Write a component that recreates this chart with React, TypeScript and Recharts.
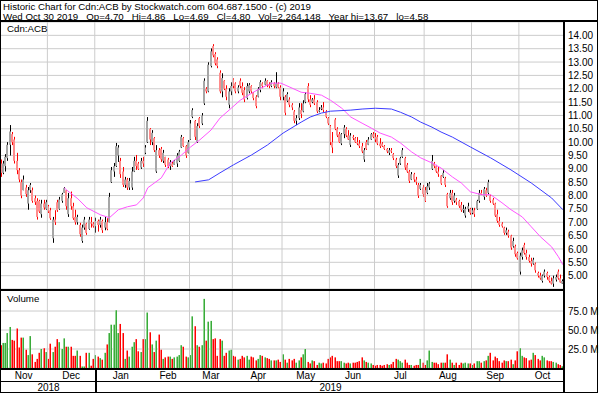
import React from 'react';
import { ComposedChart, Bar, Line, XAxis, YAxis, CartesianGrid, ReferenceLine } from 'recharts';

const FONT = '"Liberation Sans", Arial, sans-serif';

// one trading-day slot per entry, Nov 2018 .. Oct 30 2019
const months = ['Nov', 'Dec', 'Jan', 'Feb', 'Mar', 'Apr', 'May', 'Jun', 'Jul', 'Aug', 'Sep', 'Oct'];
const monthSlots = [21, 21, 22, 20, 19, 22, 21, 20, 22, 21, 21, 20];
const yearLabels = ['2018', '2019'];
const yearFirstMonth = [0, 2];

const quoteItems = ['Wed Oct 30 2019', 'Op=4.70', 'Hi=4.86', 'Lo=4.69', 'Cl=4.80', 'Vol=2,264,148', 'Year hi=13.67', 'lo=4.58'];

const opens = [
  9.2, 8.85, 9.1, 9.4, 9.9, 10.3, 10.1, 9.3, 8.95, 8.5,
  8.2, 8.3, 7.7, 8.2, 8.2, 7.9, 7.8, 7.8, 7.3, 7.7,
  7.5, 7.6, 7.45, 6.4, 7.1, 7.75, 7.5, 7.8, 8.1, 8.2,
  7.3, 7.9, 7.6, 7.2, 7.0, 6.9, 6.3, 6.8, 6.95, 6.75,
  7.0, 6.95, 6.85, 7.05, 6.9, 7.05, 6.8, 7.0, 7.0, 8.5,
  8.9, 9.1, 9.5, 9.3, 8.9, 8.4, 8.6, 8.3, 8.3, 8.9,
  9.3, 9.2, 9.05, 9.3, 9.6, 10.0, 10.5, 10.0, 10.15, 8.9,
  9.7, 9.75, 9.3, 9.45, 9.35, 9.1, 9.2, 9.15, 9.2, 9.3,
  9.8, 10.15, 9.85, 9.6, 10.1, 10.95, 10.8, 10.0, 10.9, 10.7,
  11.45, 12.0, 11.9, 12.85, 13.6, 13.3, 13.1, 12.6, 11.9, 12.3,
  12.0, 11.4, 11.9, 12.35, 12.2, 11.9, 12.3, 12.1, 11.95, 11.65,
  11.9, 12.1, 11.85, 11.7, 11.7, 11.95, 12.2, 12.15, 12.3, 12.15,
  12.1, 12.2, 12.05, 12.2, 12.05, 11.7, 11.7, 11.55, 11.6, 11.4,
  11.15, 10.8, 10.9, 11.2, 11.15, 11.5, 12.1, 11.6, 11.5, 11.6,
  11.5, 11.15, 11.25, 11.3, 11.15, 10.9, 10.6, 10.0, 10.85, 10.5,
  10.3, 9.95, 10.3, 10.5, 10.25, 9.9, 10.2, 10.15, 10.0, 9.95,
  9.85, 9.35, 10.0, 9.9, 10.1, 10.3, 10.2, 10.2, 9.95, 9.95,
  9.85, 9.75, 9.6, 9.7, 9.55, 9.35, 8.75, 9.2, 9.45, 9.4,
  9.15, 8.9, 8.6, 8.8, 8.6, 8.4, 8.25, 8.3, 8.2, 8.1,
  8.3, 9.0, 9.2, 9.1, 8.9, 8.75, 8.7, 8.65, 8.05, 7.9,
  8.1, 7.8, 7.85, 7.8, 7.65, 7.45, 7.25, 7.5, 7.5, 7.35,
  7.45, 7.5, 7.8, 8.1, 7.95, 8.2, 8.1, 8.0, 7.85, 7.7,
  7.3, 7.05, 6.95, 6.8, 6.6, 6.65, 6.5, 6.1, 6.1, 5.85,
  5.15, 5.7, 6.15, 5.85, 5.7, 5.55, 5.45, 5.45, 5.1, 5.0,
  4.8, 5.0, 5.1, 4.95, 4.8, 4.7, 4.85, 5.15, 4.9, 4.7,
];

const highs = [
  9.35, 9.3, 9.55, 10.0, 10.64, 10.38, 10.2, 9.6, 9.03, 8.6,
  8.75, 8.4, 8.32, 8.47, 8.3, 8.0, 7.9, 7.84, 7.84, 7.84,
  7.84, 7.65, 7.54, 7.2, 7.45, 7.84, 7.95, 8.1, 8.32, 8.21,
  8.1, 8.15, 7.73, 7.47, 7.28, 6.98, 6.91, 7.2, 6.98, 7.2,
  7.2, 7.0, 7.17, 7.1, 7.2, 7.1, 7.2, 7.15, 8.1, 9.07,
  9.22, 9.97, 9.89, 9.41, 9.07, 8.7, 8.66, 8.66, 9.07, 9.45,
  9.52, 9.26, 9.41, 9.45, 9.89, 10.94, 10.53, 10.45, 10.19, 9.89,
  9.78, 9.82, 9.71, 9.45, 9.41, 9.33, 9.26, 9.33, 9.59, 9.71,
  10.27, 10.19, 9.89, 10.08, 10.83, 11.27, 10.83, 10.71, 10.94, 11.09,
  12.39, 12.06, 12.99, 13.51, 13.67, 13.37, 13.18, 12.69, 12.58, 12.32,
  12.13, 12.02, 12.24, 12.39, 12.24, 12.13, 12.39, 12.24, 12.06, 12.21,
  12.21, 12.13, 11.87, 11.76, 12.06, 12.32, 12.24, 12.39, 12.32, 12.24,
  12.32, 12.24, 12.62, 12.24, 12.13, 12.02, 11.76, 11.87, 11.68, 11.46,
  11.2, 11.01, 11.46, 11.46, 11.57, 11.87, 12.21, 11.76, 11.65, 11.76,
  11.57, 11.31, 11.39, 11.5, 11.2, 10.94, 10.64, 10.38, 10.9, 10.56,
  10.38, 10.34, 10.64, 10.56, 10.45, 10.34, 10.27, 10.19, 10.19, 10.08,
  9.97, 9.78, 10.08, 10.19, 10.34, 10.38, 10.34, 10.27, 10.15, 10.0,
  9.89, 9.78, 9.78, 9.78, 9.59, 9.41, 9.22, 9.45, 9.78, 9.45,
  9.22, 8.96, 8.88, 8.85, 8.7, 8.47, 8.47, 8.4, 8.32, 8.47,
  8.51, 9.52, 9.26, 9.15, 9.07, 8.77, 8.96, 8.7, 8.1, 8.21,
  8.21, 8.1, 7.91, 7.84, 7.76, 7.65, 7.58, 7.73, 7.54, 7.54,
  7.54, 7.84, 8.21, 8.21, 8.32, 8.29, 8.59, 8.03, 7.91, 7.73,
  7.47, 7.2, 7.0, 6.83, 6.8, 6.72, 6.53, 6.42, 6.16, 5.9,
  5.86, 6.05, 6.23, 5.97, 5.79, 5.67, 5.67, 5.49, 5.15, 5.11,
  5.04, 5.23, 5.15, 5.0, 4.93, 5.0, 5.04, 5.23, 5.04, 4.86,
];

const lows = [
  8.7, 8.8, 8.9, 9.3, 9.5, 9.89, 9.2, 8.8, 8.5, 7.9,
  8.2, 7.95, 7.47, 8.1, 7.73, 7.65, 7.1, 7.35, 7.17, 7.47,
  7.47, 7.35, 7.09, 6.23, 6.9, 7.39, 7.47, 7.73, 8.1, 7.47,
  7.2, 7.47, 7.09, 6.91, 6.91, 6.46, 6.23, 6.72, 6.53, 6.72,
  6.8, 6.8, 6.61, 6.65, 6.8, 6.6, 6.7, 6.7, 7.0, 8.47,
  8.7, 9.07, 9.26, 8.66, 8.32, 8.29, 8.21, 8.21, 8.21, 8.88,
  8.96, 8.96, 9.0, 9.07, 9.55, 9.97, 9.89, 9.89, 9.63, 8.85,
  9.41, 9.26, 9.22, 9.07, 9.03, 8.96, 9.07, 9.15, 9.07, 9.26,
  9.78, 9.82, 9.41, 9.58, 10.08, 10.9, 10.08, 9.97, 10.53, 10.64,
  11.39, 11.83, 11.87, 12.8, 13.18, 12.88, 12.77, 11.83, 11.68, 11.95,
  11.57, 11.27, 11.76, 12.02, 11.83, 11.83, 12.02, 11.76, 11.5, 11.6,
  11.83, 11.83, 11.57, 11.27, 11.68, 11.87, 12.02, 12.13, 12.06, 12.02,
  12.06, 12.02, 12.02, 12.02, 11.57, 11.57, 11.01, 11.5, 11.31, 11.2,
  10.71, 10.64, 10.83, 10.9, 11.12, 11.46, 11.5, 11.31, 11.46, 11.39,
  11.09, 11.12, 11.2, 11.12, 10.9, 10.64, 9.89, 9.59, 10.45, 10.19,
  9.97, 9.89, 10.15, 10.19, 10.08, 9.82, 10.08, 9.97, 9.89, 9.78,
  9.59, 9.26, 9.71, 9.89, 10.08, 10.15, 10.0, 9.89, 9.78, 9.82,
  9.71, 9.59, 9.52, 9.59, 9.33, 9.03, 8.66, 9.15, 9.41, 8.96,
  8.85, 8.47, 8.58, 8.51, 8.4, 7.91, 8.21, 7.95, 7.76, 8.05,
  8.21, 8.96, 9.03, 8.85, 8.7, 8.4, 8.66, 8.32, 7.54, 7.84,
  7.65, 7.73, 7.65, 7.54, 7.39, 7.35, 7.17, 7.39, 7.28, 7.3,
  7.2, 7.47, 7.73, 8.03, 7.84, 7.95, 8.05, 7.73, 7.65, 7.2,
  6.98, 6.83, 6.8, 6.53, 6.53, 6.42, 5.97, 6.05, 5.71, 5.6,
  5.04, 5.6, 5.79, 5.6, 5.49, 5.34, 5.41, 5.11, 4.93, 4.85,
  4.74, 4.93, 4.85, 4.74, 4.67, 4.58, 4.78, 4.85, 4.74, 4.69,
];

const closes = [
  8.85, 9.2, 9.45, 9.9, 10.4, 10.0, 9.3, 8.95, 8.6, 8.0,
  8.6, 8.05, 8.2, 8.4, 7.8, 7.75, 7.2, 7.4, 7.7, 7.55,
  7.75, 7.4, 7.15, 7.1, 7.0, 7.45, 7.85, 8.05, 8.28, 7.6,
  7.9, 7.6, 7.15, 7.0, 7.2, 6.55, 6.8, 7.1, 6.6, 7.1,
  6.95, 6.85, 7.05, 6.9, 7.1, 6.7, 7.0, 6.75, 7.95, 8.95,
  9.1, 9.85, 9.8, 8.8, 8.4, 8.6, 8.3, 8.55, 8.9, 9.3,
  9.1, 9.0, 9.3, 9.2, 9.8, 10.8, 10.1, 10.35, 9.7, 9.7,
  9.5, 9.35, 9.6, 9.15, 9.1, 9.25, 9.1, 9.3, 9.5, 9.65,
  10.2, 9.85, 9.5, 10.0, 10.7, 11.2, 10.2, 10.6, 10.6, 11.0,
  12.3, 11.9, 12.9, 13.4, 13.25, 12.95, 12.85, 11.9, 12.4, 12.0,
  11.7, 11.9, 12.1, 12.1, 11.9, 12.05, 12.1, 11.85, 11.6, 12.1,
  12.15, 11.9, 11.65, 11.35, 12.0, 12.25, 12.1, 12.3, 12.15, 12.1,
  12.25, 12.1, 12.2, 12.05, 11.7, 11.9, 11.1, 11.8, 11.4, 11.3,
  10.8, 10.9, 11.3, 11.05, 11.45, 11.8, 11.6, 11.4, 11.6, 11.45,
  11.15, 11.2, 11.3, 11.2, 10.95, 10.7, 10.0, 9.8, 10.5, 10.25,
  10.0, 10.3, 10.55, 10.25, 10.1, 10.25, 10.15, 10.0, 9.95, 9.85,
  9.65, 9.7, 9.75, 10.1, 10.3, 10.2, 10.1, 9.95, 9.85, 9.85,
  9.75, 9.65, 9.7, 9.65, 9.4, 9.1, 9.15, 9.4, 9.7, 9.05,
  8.9, 8.55, 8.8, 8.6, 8.5, 8.0, 8.4, 8.05, 7.8, 8.35,
  8.45, 9.3, 9.1, 8.9, 8.8, 8.45, 8.85, 8.4, 7.6, 8.1,
  7.75, 8.0, 7.75, 7.6, 7.45, 7.5, 7.5, 7.6, 7.35, 7.45,
  7.3, 7.8, 8.1, 8.05, 8.25, 8.0, 8.5, 7.8, 7.7, 7.25,
  7.05, 6.9, 6.85, 6.6, 6.7, 6.5, 6.05, 6.3, 5.8, 5.65,
  5.75, 5.95, 5.85, 5.7, 5.55, 5.45, 5.6, 5.2, 5.0, 4.9,
  5.0, 5.15, 4.95, 4.8, 4.7, 4.9, 4.95, 4.9, 4.75, 4.8,
];

// millions of shares
const volumes = [
  30, 33, 33, 46, 54, 37, 36, 52, 27, 40,
  40, 24, 17, 42, 18, 8, 12, 20, 25, 26,
  21, 12, 32, 21, 28, 38, 34, 25, 39, 28,
  28, 28, 16, 16, 23, 16, 2, 2, 20, 20,
  3, 12, 17, 15, 13, 11, 20, 31, 46, 57,
  57, 76, 46, 58, 46, 12, 23, 15, 28, 34,
  38, 22, 21, 38, 38, 73, 47, 31, 21, 36,
  44, 24, 12, 14, 15, 15, 12, 14, 15, 17,
  30, 28, 15, 14, 17, 68, 55, 30, 28, 30,
  91, 36, 61, 62, 38, 39, 16, 38, 36, 16,
  20, 23, 24, 16, 15, 11, 12, 16, 14, 16,
  11, 15, 14, 10, 12, 17, 16, 14, 13, 12,
  10, 10, 10, 11, 8, 18, 11, 7, 12, 10,
  12, 7, 10, 14, 18, 25, 8, 6, 10, 9,
  4, 7, 6, 7, 6, 12, 14, 16, 14, 9,
  9, 9, 7, 6, 7, 6, 7, 7, 8, 9,
  14, 10, 8, 7, 6, 4, 3, 4, 4, 3,
  4, 5, 4, 5, 8, 12, 11, 9, 7, 11,
  7, 4, 4, 3, 4, 4, 12, 7, 4, 10,
  23, 8, 7, 7, 5, 7, 7, 7, 18, 11,
  7, 4, 7, 4, 7, 6, 7, 6, 6, 4,
  6, 9, 9, 7, 9, 10, 16, 20, 10, 15,
  13, 9, 7, 10, 9, 9, 11, 5, 10, 22,
  26, 16, 14, 13, 10, 11, 20, 17, 12, 10,
  16, 14, 10, 9, 9, 8, 7, 5, 4, 2.26,
];

// moving averages, read at sample days
const ma50Days = [28, 29, 34, 38, 44, 48, 52, 56, 60, 63, 65, 71, 75, 80, 84, 88, 93, 97, 102, 106, 111, 115, 120, 124, 128, 133, 137, 142, 146, 151, 155, 160, 164, 168, 173, 177, 182, 186, 191, 195, 200, 204, 208, 213, 217, 222, 226, 231, 235, 239, 244, 247, 249];
const ma50Vals = [8.29, 8.21, 7.88, 7.54, 7.28, 7.17, 7.47, 7.58, 7.65, 7.91, 8.29, 8.66, 9.22, 9.52, 9.82, 10.08, 10.45, 10.9, 11.27, 11.57, 11.83, 12.02, 12.21, 12.21, 12.06, 11.87, 11.83, 11.76, 11.57, 11.27, 10.94, 10.71, 10.53, 10.34, 10.19, 9.97, 9.63, 9.41, 9.22, 9.03, 8.7, 8.47, 8.14, 8.03, 8.03, 7.73, 7.47, 7.2, 6.83, 6.46, 6.08, 5.71, 5.41];
const ma200Days = [86, 92, 97, 103, 111, 118, 125, 133, 137, 142, 146, 155, 160, 166, 173, 177, 182, 186, 191, 195, 200, 208, 217, 226, 235, 244, 249];
const ma200Vals = [8.51, 8.59, 8.85, 9.15, 9.52, 9.89, 10.34, 10.75, 10.94, 11.09, 11.16, 11.2, 11.24, 11.27, 11.24, 11.12, 10.94, 10.75, 10.56, 10.38, 10.19, 9.82, 9.41, 8.96, 8.47, 7.91, 7.47];

const priceTicks = [5, 5.5, 6, 6.5, 7, 7.5, 8, 8.5, 9, 9.5, 10, 10.5, 11, 11.5, 12, 12.5, 13, 13.5, 14];
const volumeTicks = [25, 50, 75];

const data = closes.map((close, i) => ({
  i,
  open: opens[i],
  high: highs[i],
  low: lows[i],
  close,
  range: [lows[i], highs[i]],
  vol: volumes[i],
  ma50: null as number | null,
  ma200: null as number | null,
}));
ma50Days.forEach((d, k) => { data[d].ma50 = ma50Vals[k]; });
ma200Days.forEach((d, k) => { data[d].ma200 = ma200Vals[k]; });

const monthStarts: number[] = [];
monthSlots.reduce((s, n) => { monthStarts.push(s); return s + n; }, 0);
const monthMids = monthStarts.map((s, k) => s + Math.floor(monthSlots[k] / 2));
const monthLabelAt: Record<number, string> = {};
monthMids.forEach((m, k) => { monthLabelAt[m] = months[k]; });
const yearStarts = yearFirstMonth.map((k) => monthStarts[k]);
const yearMids = yearStarts.map((s, k) => Math.floor((s + (yearStarts[k + 1] ?? data.length)) / 2));
const yearLabelAt: Record<number, string> = {};
yearMids.forEach((m, k) => { yearLabelAt[m] = yearLabels[k]; });

const GRID = '#cccccc';
const tickStyle = { fontSize: 10, fill: '#000', fontFamily: FONT };

const Candle = (props: any) => {
  const { x, y, width, height, payload } = props;
  if (!payload || x == null) return null;
  const { open, high, low, close } = payload;
  const top = Math.min(y, y + height);
  const h = Math.max(Math.abs(height), 1);
  const cx = Math.floor(x + width / 2);
  const span = high - low;
  const toY = (v: number) => (span > 0 ? top + ((high - v) / span) * h : top);
  const up = close >= open;
  const bTop = toY(Math.max(open, close));
  const bBot = toY(Math.min(open, close));
  return (
    <g>
      <rect x={cx} y={top} width={1} height={h} fill={up ? '#000000' : '#ff0000'} />
      <rect x={cx - 1} y={bTop} width={2} height={Math.max(bBot - bTop, 1)} fill={up ? '#a6a6a6' : '#ff8c8c'} />
    </g>
  );
};

const VolBar = (props: any) => {
  const { x, y, width, height, payload } = props;
  if (!payload || x == null || !height) return null;
  const up = payload.close >= payload.open;
  const cx = Math.floor(x + width / 2);
  return (
    <g>
      <rect x={cx - 1} y={y} width={1} height={height} fill={up ? '#8fd68f' : '#ff7d7d'} />
      <rect x={cx} y={y} width={1} height={height} fill={up ? '#3aaa3a' : '#ff0000'} />
    </g>
  );
};

const VolTick = (props: any) => {
  const { x, y, payload } = props;
  return (
    <text x={x} y={y} dy={3.5} textAnchor="start" fontSize={10} fontFamily={FONT} fill="#000">
      {`${Number(payload.value).toFixed(1)} M`}
    </text>
  );
};

const Rule = ({ x, y, w, h }: { x: number; y: number; w: number; h: number }) => (
  <rect x={x} y={y} width={w} height={h} fill="#000" />
);

export default function App() {
  return (
    <div style={{ position: 'absolute', left: 0, top: 0, width: 600, height: 393, background: '#fff', overflow: 'hidden', fontFamily: FONT }}>
      <div style={{ position: 'absolute', left: 0, top: 22 }}>
        <ComposedChart width={600} height={267} data={data} margin={{ top: 0, right: 0, bottom: 0, left: 0 }} barCategoryGap="10%">
          <CartesianGrid vertical={false} stroke={GRID} />
          <XAxis dataKey="i" hide />
          <YAxis
            orientation="right"
            width={36}
            domain={[4.5, 14.5]}
            ticks={priceTicks}
            interval={0}
            allowDataOverflow
            tickFormatter={(v: number) => v.toFixed(2)}
            axisLine={false}
            tickLine={false}
            tickSize={0}
            tickMargin={4}
            tick={tickStyle}
          />
          {monthStarts.slice(1).map((s) => (
            <ReferenceLine key={s} x={s} position="start" stroke={GRID} />
          ))}
          <Bar dataKey="range" isAnimationActive={false} shape={(p: any) => <Candle {...p} />} />
          <Line dataKey="ma50" type="linear" stroke="#ff55ff" strokeWidth={1} dot={false} activeDot={false} connectNulls isAnimationActive={false} />
          <Line dataKey="ma200" type="linear" stroke="#3c3cff" strokeWidth={1} dot={false} activeDot={false} connectNulls isAnimationActive={false} />
        </ComposedChart>
      </div>

      <div style={{ position: 'absolute', left: 0, top: 289 }}>
        <ComposedChart width={600} height={104} data={data} margin={{ top: 0, right: 0, bottom: 0, left: 0 }} barCategoryGap="10%">
          <CartesianGrid vertical={false} stroke={GRID} xAxisId="m" />
          <XAxis
            xAxisId="m"
            dataKey="i"
            ticks={monthMids}
            interval={0}
            tickFormatter={(v: number) => monthLabelAt[v] ?? ''}
            axisLine={false}
            tickLine={false}
            tickSize={0}
            tickMargin={4}
            height={13}
            tick={tickStyle}
          />
          <XAxis
            xAxisId="y"
            dataKey="i"
            ticks={yearMids}
            interval={0}
            tickFormatter={(v: number) => yearLabelAt[v] ?? ''}
            axisLine={false}
            tickLine={false}
            tickSize={0}
            tickMargin={3}
            height={12}
            tick={tickStyle}
          />
          <YAxis
            orientation="right"
            width={36}
            domain={[0, 104]}
            ticks={volumeTicks}
            interval={0}
            allowDataOverflow
            axisLine={false}
            tickLine={false}
            tickSize={0}
            tickMargin={4}
            tick={(p: any) => <VolTick {...p} />}
          />
          {monthStarts.slice(1).map((s) => (
            <ReferenceLine key={s} x={s} xAxisId="m" position="start" stroke={GRID} />
          ))}
          <Bar dataKey="vol" xAxisId="m" isAnimationActive={false} shape={(p: any) => <VolBar {...p} />} />
        </ComposedChart>
      </div>

      <svg width={600} height={393} style={{ position: 'absolute', left: 0, top: 0, pointerEvents: 'none' }}>
        <g fontFamily={FONT} fontSize={9.7} fill="#000">
          <text x={3} y={10}>Historic Chart for Cdn:ACB by Stockwatch.com 604.687.1500 - (c) 2019</text>
          <text x={3} y={20}>
            {quoteItems.map((s, k) => (
              <tspan key={k} dx={k === 0 ? 0 : 8}>{s}</tspan>
            ))}
          </text>
          <text x={7} y={32}>Cdn:ACB</text>
          <text x={7} y={302}>Volume</text>
        </g>
        <Rule x={0} y={0} w={598} h={1} />
        <Rule x={0} y={0} w={1} h={393} />
        <Rule x={597} y={0} w={1} h={393} />
        <Rule x={0} y={392} w={598} h={1} />
        <Rule x={0} y={20} w={598} h={2} />
        <Rule x={0} y={289} w={565} h={2} />
        <Rule x={0} y={368} w={565} h={2} />
        <Rule x={0} y={381} w={565} h={1} />
        <Rule x={563} y={21} w={2} h={372} />
        <Rule x={95} y={368} w={2} h={25} />
      </svg>
    </div>
  );
}
